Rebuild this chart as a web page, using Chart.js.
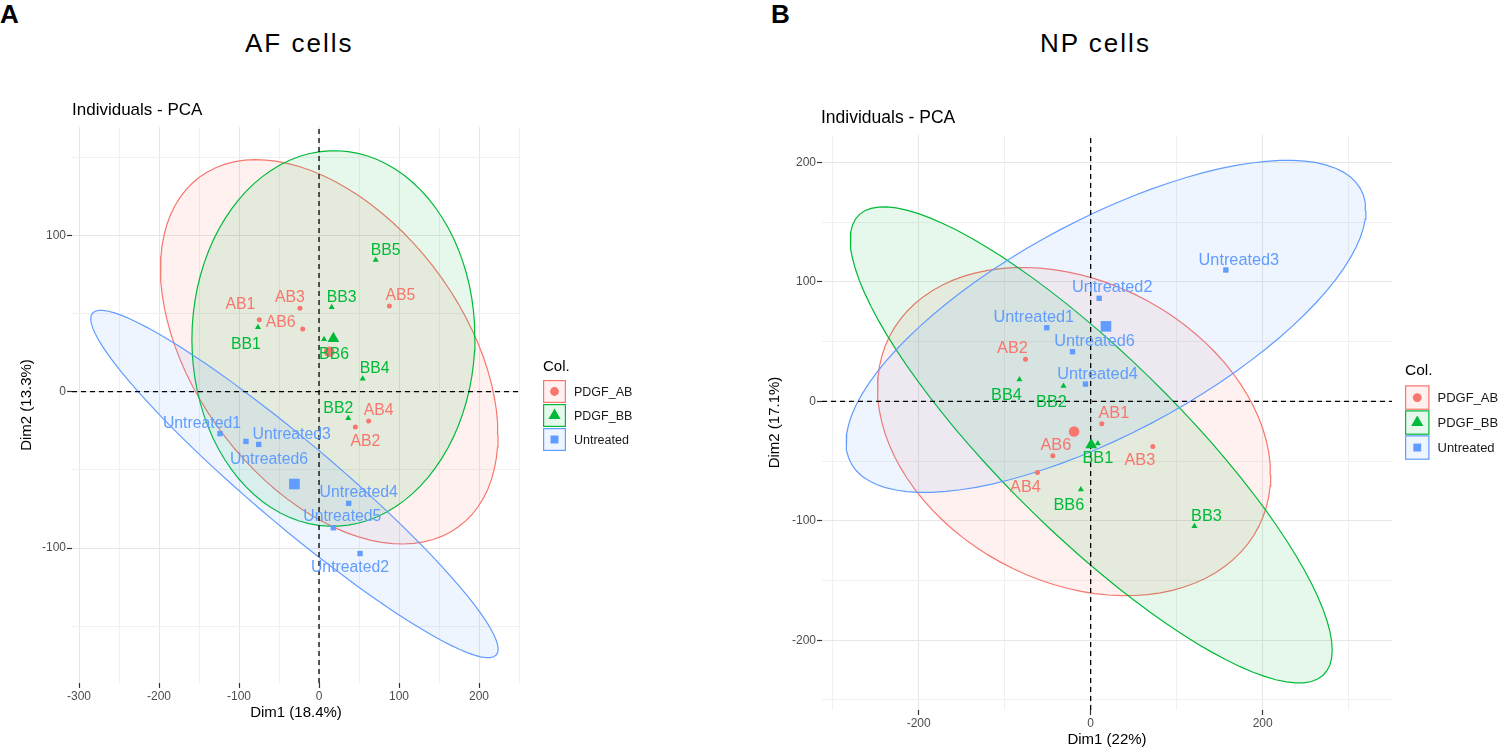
<!DOCTYPE html>
<html>
<head>
<meta charset="utf-8">
<title>Individuals - PCA: AF cells / NP cells</title>
<script src="https://cdn.jsdelivr.net/npm/chart.js@4.4.1/dist/chart.umd.min.js"></script>
<style>
  html, body { margin: 0; padding: 0; background: #fff; }
  #fig { position: relative; width: 1500px; height: 750px; overflow: hidden;
         font-family: 'Liberation Sans', Arial, Helvetica, sans-serif; color: #000; }
  .panel-letter { position: absolute; top: 1px; font-size: 26px; line-height: 26px; font-weight: bold; }
  .panel-title { position: absolute; top: 30px; font-size: 26px; line-height: 26px; letter-spacing: 2px; white-space: nowrap; }
  canvas { position: absolute; top: 0; }
</style>
</head>
<body>
<div id="fig">
  <div class="panel-letter" style="left:0px">A</div>
  <div class="panel-title" style="left:245px">AF cells</div>
  <div class="panel-letter" style="left:771px">B</div>
  <div class="panel-title" style="left:1040px">NP cells</div>
  <canvas id="afChart" width="740" height="750" style="left:0px"></canvas>
  <canvas id="npChart" width="760" height="750" style="left:740px"></canvas>
</div>
<script>
// ---- values (PCA scores, Dim1 / Dim2) ----

// A: AF cells
const afAbNames = ['AB1', 'AB2', 'AB3', 'AB4', 'AB5', 'AB6'];
const afAbX = [-74.6, 45.4, -23.8, 62.1, 88.0, -20.4];
const afAbY = [46.1, -22.5, 53.3, -18.7, 54.8, 40.1];
const afBbNames = ['BB1', 'BB2', 'BB3', 'BB4', 'BB5', 'BB6'];
const afBbX = [-76.3, 36.6, 15.9, 54.6, 70.9, 6.3];
const afBbY = [41.2, -17.0, 54.0, 8.3, 84.2, 33.5];
const afUtNames = ['Untreated1', 'Untreated2', 'Untreated3', 'Untreated4', 'Untreated5', 'Untreated6'];
const afUtX = [-123.8, 51.3, -75.4, 37.1, 17.9, -91.3];
const afUtY = [-26.8, -103.5, -33.7, -71.4, -87.0, -31.8];

// B: NP cells (no sample 5)
const npAbNames = ['AB1', 'AB2', 'AB3', 'AB4', 'AB6'];
const npAbX = [13.0, -75.8, 72.3, -61.9, -44.0];
const npAbY = [-18.8, 35.1, -37.8, -59.6, -45.6];
const npBbNames = ['BB1', 'BB2', 'BB3', 'BB4', 'BB6'];
const npBbX = [8.3, -31.6, 120.7, -82.8, -11.4];
const npBbY = [-35.3, 12.7, -104.5, 18.3, -73.8];
const npUtNames = ['Untreated1', 'Untreated2', 'Untreated3', 'Untreated4', 'Untreated6'];
const npUtX = [-51.0, 9.9, 157.2, -6.0, -21.1];
const npUtY = [61.6, 86.2, 109.9, 14.4, 41.5];

const groupNames = ['PDGF_AB', 'PDGF_BB', 'Untreated'];

// grid breaks (major + minor) and the labelled ones
const afXBreaks = [-300, -250, -200, -150, -100, -50, 0, 50, 100, 150, 200, 250];
const afXLabels = [-300, -200, -100, 0, 100, 200];
const afYBreaks = [-150, -100, -50, 0, 50, 100, 150];
const afYLabels = [-100, 0, 100];
const npXBreaks = [-300, -200, -100, 0, 100, 200, 300];
const npXLabels = [-200, 0, 200];
const npYBreaks = [-250, -200, -150, -100, -50, 0, 50, 100, 150, 200];
const npYLabels = [-200, -100, 0, 100, 200];

// ---- styling ----
const FONT = "'Liberation Sans', Arial, Helvetica, sans-serif";
const COLORS = ['#F8766D', '#00BA38', '#619CFF'];
const FILLS = ['rgba(248,118,109,0.1)', 'rgba(0,186,56,0.1)', 'rgba(97,156,255,0.1)'];
const SHAPES = ['circle', 'triangle', 'rect'];
const POINT_R = [2.5, 3.5, 3.8];
const MEAN_R = [5.3, 6.8, 7.5];

// ggrepel-like label offsets in px (dx, dy) from the point
const afNudge = {
  AB1: [-19, -16], AB2: [10, 13], AB3: [-10, -12], AB4: [10, -12], AB5: [11, -12], AB6: [-22, -8],
  BB1: [-12, 16], BB2: [-10, -11], BB3: [10, -11], BB4: [12, -11], BB5: [10, -11], BB6: [10, 14],
  Untreated1: [-18, -11], Untreated2: [-10, 13], Untreated3: [33, -11],
  Untreated4: [10, -12], Untreated5: [9, -12], Untreated6: [23, 17]
};
const npNudge = {
  AB1: [12, -12], AB2: [-13, -12], AB3: [-13, 13], AB4: [-12, 14], AB6: [3, -12],
  BB1: [0, 14], BB2: [-12, 15], BB3: [12, -11], BB4: [-13, 15], BB6: [-12, 15],
  Untreated1: [-13, -12], Untreated2: [13, -12], Untreated3: [13, -11], Untreated4: [12, -11], Untreated6: [22, -12]
};

Chart.defaults.font.family = FONT;

function meanOf(a) {
  return a.reduce((s, v) => s + v, 0) / a.length;
}

// same as stat_ellipse(type = "norm", level = 0.95)
function ellipseOf(xs, ys) {
  const n = xs.length, mx = meanOf(xs), my = meanOf(ys);
  let sxx = 0, syy = 0, sxy = 0;
  for (let i = 0; i < n; i++) {
    const dx = xs[i] - mx, dy = ys[i] - my;
    sxx += dx * dx; syy += dy * dy; sxy += dx * dy;
  }
  sxx /= n - 1; syy /= n - 1; sxy /= n - 1;
  const dfd = n - 1;
  const qf = dfd / 2 * (Math.pow(0.05, -2 / dfd) - 1); // qf(0.95, 2, n-1)
  const r = Math.sqrt(2 * qf);
  const a = Math.sqrt(sxx), b = sxy / a, c = Math.sqrt(syy - b * b);
  const pts = [];
  for (let k = 0; k <= 90; k++) {
    const t = 2 * Math.PI * k / 90;
    pts.push({ x: mx + r * a * Math.cos(t), y: my + r * (b * Math.cos(t) + c * Math.sin(t)) });
  }
  return pts;
}

function drawSymbol(ctx, shape, cx, cy, r) {
  ctx.beginPath();
  if (shape === 'circle') {
    ctx.arc(cx, cy, r, 0, Math.PI * 2);
  } else if (shape === 'triangle') {
    ctx.moveTo(cx, cy - r);
    ctx.lineTo(cx + r * 0.866, cy + r / 2);
    ctx.lineTo(cx - r * 0.866, cy + r / 2);
    ctx.closePath();
  } else {
    const h = r * Math.SQRT1_2;
    ctx.rect(cx - h, cy - h, 2 * h, 2 * h);
  }
  ctx.fill();
}

// point labels, "Individuals - PCA" and the "Col." legend
const pcaText = {
  id: 'pcaText',
  afterDatasetsDraw(chart, args, o) {
    const { ctx } = chart;
    const xs = chart.scales.x, ys = chart.scales.y;
    ctx.save();
    ctx.textAlign = 'center';
    ctx.textBaseline = 'alphabetic';
    ctx.font = o.labelSize + 'px ' + FONT;
    o.groups.forEach((g, gi) => {
      ctx.fillStyle = COLORS[gi];
      g.names.forEach((name, i) => {
        const nd = o.nudge[name] || [0, 0];
        ctx.fillText(name,
          xs.getPixelForValue(g.xs[i]) + nd[0],
          ys.getPixelForValue(g.ys[i]) + nd[1] + o.labelSize * 0.36);
      });
    });

    ctx.textAlign = 'left';
    ctx.fillStyle = '#000';
    ctx.font = o.subSize + 'px ' + FONT;
    ctx.fillText('Individuals - PCA', o.sub[0], o.sub[1]);

    const L = o.legend;
    ctx.font = L.titleSize + 'px ' + FONT;
    ctx.fillText('Col.', L.x, L.titleY);
    ctx.font = L.textSize + 'px ' + FONT;
    groupNames.forEach((name, i) => {
      const top = L.top + i * L.pitch;
      ctx.fillStyle = FILLS[i];
      ctx.fillRect(L.x, top, L.size, L.size);
      ctx.strokeStyle = COLORS[i];
      ctx.lineWidth = 1.2;
      ctx.strokeRect(L.x + 0.6, top + 0.6, L.size - 1.2, L.size - 1.2);
      ctx.fillStyle = COLORS[i];
      drawSymbol(ctx, SHAPES[i], L.x + L.size / 2, top + L.size / 2, [4.4, 7, 5.6][i]);
      ctx.fillStyle = '#1a1a1a';
      ctx.fillText(name, L.x + L.size + 8, top + L.size / 2 + L.textSize * 0.36);
    });
    ctx.restore();
  }
};
Chart.register(pcaText);

function buildPanel(id, p) {
  const datasets = [];
  p.groups.forEach((g, i) => {
    datasets.push({
      data: ellipseOf(g.xs, g.ys), showLine: true, fill: 'shape', tension: 0,
      backgroundColor: FILLS[i], borderColor: COLORS[i], borderWidth: 1.2,
      pointRadius: 0, order: 30 - i
    });
  });
  datasets.push({
    data: [{ x: 0, y: p.y[0] }, { x: 0, y: p.y[1] }], showLine: true,
    borderColor: '#000', borderWidth: 1.3, borderDash: [5, 4], pointRadius: 0, order: 20
  });
  datasets.push({
    data: [{ x: p.x[0], y: 0 }, { x: p.x[1], y: 0 }], showLine: true,
    borderColor: '#000', borderWidth: 1.3, borderDash: [5, 4], pointRadius: 0, order: 20
  });
  p.groups.forEach((g, i) => {
    datasets.push({
      data: g.xs.map((x, k) => ({ x: x, y: g.ys[k] })),
      pointStyle: SHAPES[i], pointRadius: POINT_R[i], borderWidth: 0,
      backgroundColor: COLORS[i], borderColor: COLORS[i], order: 10
    });
    datasets.push({
      data: [{ x: meanOf(g.xs), y: meanOf(g.ys) }],
      pointStyle: SHAPES[i], pointRadius: MEAN_R[i], borderWidth: 0,
      backgroundColor: COLORS[i], borderColor: COLORS[i], order: 5
    });
  });

  function axis(range, breaks, labels, size, title, titlePad) {
    return {
      type: 'linear', min: range[0], max: range[1],
      afterBuildTicks: s => { s.ticks = breaks.map(v => ({ value: v })); },
      afterFit: s => { if (s.isHorizontal()) s.height = size; else s.width = size; },
      border: { display: false },
      grid: {
        color: c => labels.includes(c.tick.value) ? '#E6E6E6' : '#F0F0F0',
        lineWidth: 1,
        tickColor: c => labels.includes(c.tick.value) ? '#333333' : 'rgba(0,0,0,0)',
        tickLength: 5, tickWidth: 1.2
      },
      ticks: {
        autoSkip: false, maxRotation: 0, padding: 1, color: '#4D4D4D', font: { size: 12 },
        callback: v => labels.includes(v) ? String(v) : ''
      },
      title: { display: true, text: title, color: '#000', font: { size: 15 }, padding: titlePad }
    };
  }

  return new Chart(document.getElementById(id), {
    type: 'scatter',
    data: { datasets: datasets },
    options: {
      responsive: false, animation: false, events: [],
      layout: { padding: { top: p.area.top, right: p.area.right, left: 0, bottom: 0 } },
      plugins: {
        legend: { display: false },
        tooltip: { enabled: false },
        pcaText: {
          groups: p.groups, nudge: p.nudge, labelSize: p.labelSize,
          sub: p.sub, subSize: p.subSize, legend: p.legend
        }
      },
      scales: {
        x: axis(p.x, p.xBreaks, p.xLabels, p.area.xh, p.xTitle, { top: 0, bottom: p.xTitlePad }),
        y: axis(p.y, p.yBreaks, p.yLabels, p.area.yw, p.yTitle, { top: p.yTitlePad, bottom: 0 })
      }
    }
  });
}

buildPanel('afChart', {
  groups: [
    { names: afAbNames, xs: afAbX, ys: afAbY },
    { names: afBbNames, xs: afBbX, ys: afBbY },
    { names: afUtNames, xs: afUtX, ys: afUtY }
  ],
  x: [-308.75, 251.25], y: [-186.3, 169.3],
  xBreaks: afXBreaks, xLabels: afXLabels, yBreaks: afYBreaks, yLabels: afYLabels,
  xTitle: 'Dim1 (18.4%)', yTitle: 'Dim2 (13.3%)', xTitlePad: 28, yTitlePad: 18,
  area: { top: 127, right: 220, xh: 67, yw: 72 },
  nudge: afNudge, labelSize: 15.8,
  sub: [72, 115], subSize: 17,
  legend: { x: 543, titleY: 370.7, titleSize: 15, textSize: 12.5, top: 380, size: 23, pitch: 24 }
});

buildPanel('npChart', {
  groups: [
    { names: npAbNames, xs: npAbX, ys: npAbY },
    { names: npBbNames, xs: npBbX, ys: npBbY },
    { names: npUtNames, xs: npUtX, ys: npUtY }
  ],
  x: [-312.4, 350.4], y: [-258.4, 222.9],
  xBreaks: npXBreaks, xLabels: npXLabels, yBreaks: npYBreaks, yLabels: npYLabels,
  xTitle: 'Dim1 (22%)', yTitle: 'Dim2 (17.1%)', xTitlePad: 1, yTitlePad: 26,
  area: { top: 135, right: 108, xh: 40, yw: 82 },
  nudge: npNudge, labelSize: 16.3,
  sub: [81, 123.3], subSize: 17.5,
  legend: { x: 665, titleY: 375, titleSize: 15.5, textSize: 13, top: 385.3, size: 24.5, pitch: 25 }
});
</script>
</body>
</html>
